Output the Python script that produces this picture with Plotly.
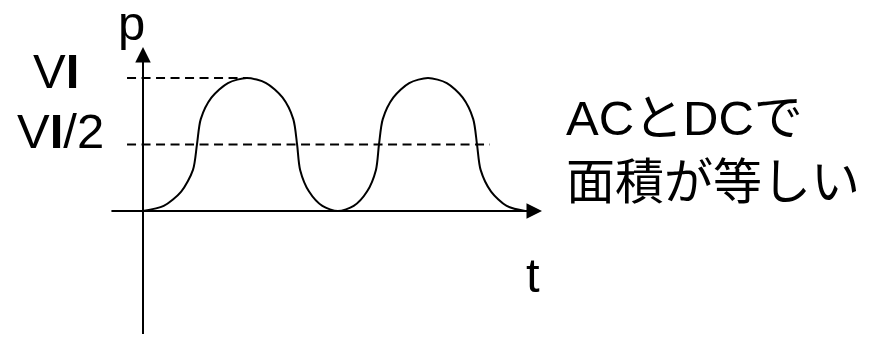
import plotly.graph_objects as go

W, H = 872, 342
OFF = 8  # default body margin of the page
FW, FH = W - 2 * OFF, H - 2 * OFF

# power curve p(t) (p in units of VI, t in arbitrary time units)
t_curve = [0.000, 0.109, 0.201, 0.263, 0.284,
           0.304, 0.361, 0.447, 0.547,
           0.648, 0.734, 0.791, 0.811,
           0.827, 0.874, 0.944, 1.026,
           1.109, 1.179, 1.226, 1.242,
           1.262, 1.318, 1.401, 1.500,
           1.599, 1.682, 1.738, 1.758,
           1.777, 1.832, 1.914, 2.011]
p_curve = [0.000, 0.038, 0.146, 0.309, 0.500,
           0.691, 0.854, 0.962, 1.000,
           0.962, 0.854, 0.691, 0.500,
           0.309, 0.146, 0.038, 0.000,
           0.038, 0.146, 0.309, 0.500,
           0.691, 0.854, 0.962, 1.000,
           0.962, 0.854, 0.691, 0.500,
           0.309, 0.146, 0.038, 0.000]

# reference levels (dashed)
level_vi = 1.0
level_half = 0.5
vi_dash_t = [-0.084, 0.547]
half_dash_t = [-0.084, 1.826]

# axis extents
t_axis = [-0.174, 2.10]
p_axis = [-0.97, 1.233]

# pixel mapping: origin at (143, 211) on the page, 190 px per t unit, 133 px per p unit
ox, oy = 143 - OFF, 211 - OFF
x_range = [-ox / 190, (FW - ox) / 190]
y_range = [-(FH - oy) / 133, oy / 133]

fig = go.Figure()

dash = dict(color="black", width=1.8, dash="9px,5.5px")
fig.add_scatter(x=vi_dash_t, y=[level_vi, level_vi], mode="lines", line=dash, hoverinfo="skip")
fig.add_scatter(x=half_dash_t, y=[level_half, level_half], mode="lines", line=dash, hoverinfo="skip")
fig.add_scatter(x=t_curve, y=p_curve, mode="lines",
                line=dict(color="black", width=2, shape="spline", smoothing=0.8),
                hoverinfo="skip")

# axes with arrows
fig.add_annotation(x=0, y=p_axis[1], ax=0, ay=p_axis[0], xref="x", yref="y",
                   axref="x", ayref="y", text="", showarrow=True,
                   arrowhead=2, arrowsize=1.55, arrowwidth=2, arrowcolor="black")
fig.add_annotation(x=t_axis[1], y=0, ax=t_axis[0], ay=0, xref="x", yref="y",
                   axref="x", ayref="y", text="", showarrow=True,
                   arrowhead=2, arrowsize=1.55, arrowwidth=2, arrowcolor="black")

font = dict(family="Liberation Sans, Arial, Noto Sans CJK JP", size=49, color="black")


def px(x):
    return (x - OFF) / FW


def py(y):
    return 1 - (y - OFF) / FH


def label(text, x, y, xanchor="left"):
    fig.add_annotation(x=px(x), y=py(y), xref="paper", yref="paper", text=text,
                       showarrow=False, xanchor=xanchor, yanchor="middle",
                       align="left", font=font)


label("p", 132, 23, xanchor="center")
label("V<b>I</b>", 31, 71)
label("V<b>I</b>/2", 15, 131)
label("t", 533, 275, xanchor="center")
label("ACとDCで<br>面積が等しい", 564, 150)

fig.update_layout(
    width=FW, height=FH,
    margin=dict(l=0, r=0, t=0, b=0),
    paper_bgcolor="white", plot_bgcolor="white",
    showlegend=False,
    xaxis=dict(range=x_range, visible=False, fixedrange=True),
    yaxis=dict(range=y_range, visible=False, fixedrange=True),
)

fig.write_html("out.html")
